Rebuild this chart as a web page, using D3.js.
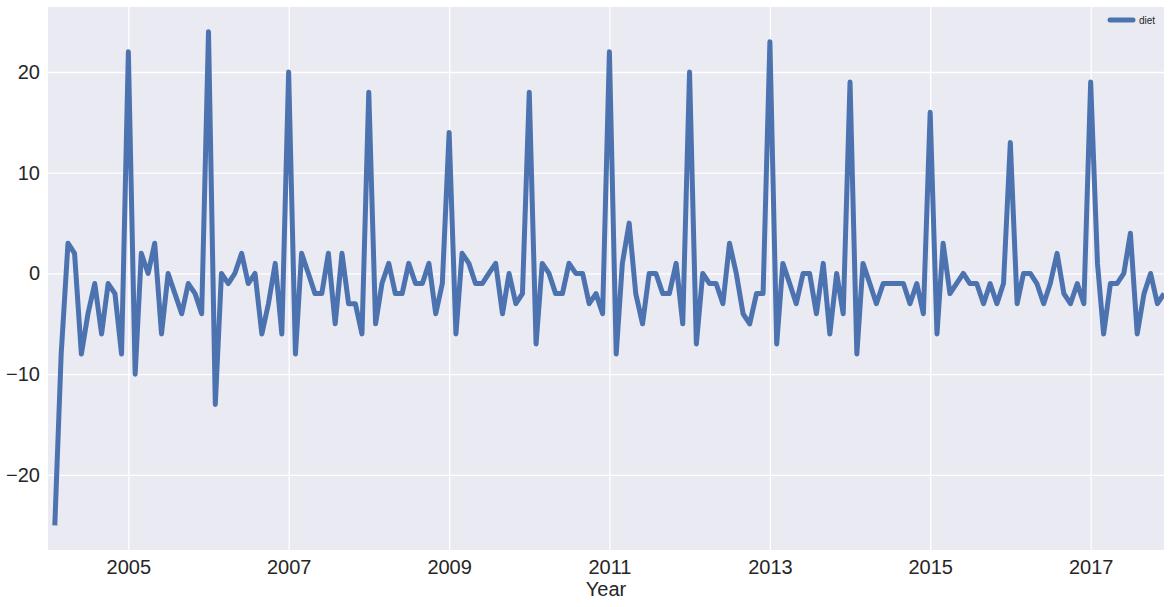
<!DOCTYPE html>
<html>
<head>
<meta charset="utf-8">
<script src="https://cdn.jsdelivr.net/npm/d3@7"></script>
<style>
  html, body { margin: 0; padding: 0; background: #ffffff; }
  svg { display: block; font-family: "Liberation Sans", Arial, sans-serif; }
</style>
</head>
<body>
<svg id="chart" width="1171" height="607"></svg>
<script>
// ---- data (monthly differences of "diet", first month 2004-01 is empty) ----
const startMonth = "2004-01";
const lastMonth = "2017-12";
const seriesName = "diet";
const dietDiff = [
  null,
  -25, -8, 3, 2, -8, -4, -1, -6, -1, -2, -8,          // 2004 Feb-Dec
  22, -10, 2, 0, 3, -6, 0, -2, -4, -1, -2, -4,         // 2005
  24, -13, 0, -1, 0, 2, -1, 0, -6, -3, 1, -6,          // 2006
  20, -8, 2, 0, -2, -2, 2, -5, 2, -3, -3, -6,          // 2007
  18, -5, -1, 1, -2, -2, 1, -1, -1, 1, -4, -1,         // 2008
  14, -6, 2, 1, -1, -1, 0, 1, -4, 0, -3, -2,           // 2009
  18, -7, 1, 0, -2, -2, 1, 0, 0, -3, -2, -4,           // 2010
  22, -8, 1, 5, -2, -5, 0, 0, -2, -2, 1, -5,           // 2011
  20, -7, 0, -1, -1, -3, 3, 0, -4, -5, -2, -2,         // 2012
  23, -7, 1, -1, -3, 0, 0, -4, 1, -6, 0, -4,           // 2013
  19, -8, 1, -1, -3, -1, -1, -1, -1, -3, -1, -4,       // 2014
  16, -6, 3, -2, -1, 0, -1, -1, -3, -1, -3, -1,        // 2015
  13, -3, 0, 0, -1, -3, -1, 2, -2, -3, -1, -3,         // 2016
  19, 1, -6, -1, -1, 0, 4, -6, -2, 0, -3, -2           // 2017
];
const xTickYears = [2005, 2007, 2009, 2011, 2013, 2015, 2017];
const yTicks = [-20, -10, 0, 10, 20];
const xLabel = "Year";

// ---- layout ----
const svg = d3.select("#chart");
const plot = { left: 48, right: 1164, top: 7, bottom: 550 };
const parseMonth = d3.timeParse("%Y-%m");
const t0 = parseMonth(startMonth);
const t1 = parseMonth(lastMonth);
const data = dietDiff.map((v, i) => ({ date: d3.timeMonth.offset(t0, i), value: v }));

const x = d3.scaleTime().domain([t0, t1]).range([plot.left, plot.right]);
const vals = dietDiff.filter(v => v !== null);
const vmin = d3.min(vals), vmax = d3.max(vals);
const pad = (vmax - vmin) * 0.05;
const y = d3.scaleLinear().domain([vmin - pad, vmax + pad]).range([plot.bottom, plot.top]);

// background
svg.append("rect")
  .attr("x", plot.left).attr("y", plot.top)
  .attr("width", plot.right - plot.left).attr("height", plot.bottom - plot.top)
  .attr("fill", "#EAEAF2");

// clip
svg.append("clipPath").attr("id", "clip").append("rect")
  .attr("x", plot.left).attr("y", plot.top)
  .attr("width", plot.right - plot.left).attr("height", plot.bottom - plot.top);

// axes (grid via tick lines)
const xTickDates = xTickYears.map(yr => new Date(yr, 0, 1));
const xAxis = d3.axisBottom(x).tickValues(xTickDates).tickFormat(d3.timeFormat("%Y"))
  .tickSize(-(plot.bottom - plot.top)).tickPadding(10);
const gx = svg.append("g").attr("transform", `translate(0,${plot.bottom})`).call(xAxis);
gx.select(".domain").remove();
gx.selectAll(".tick line").attr("stroke", "#ffffff").attr("stroke-width", 1.3);
gx.selectAll(".tick text").attr("fill", "#262626").attr("font-size", 20);

const yAxis = d3.axisLeft(y).tickValues(yTicks)
  .tickFormat(d => d < 0 ? "\u2212" + Math.abs(d) : String(d))
  .tickSize(-(plot.right - plot.left)).tickPadding(8);
const gy = svg.append("g").attr("transform", `translate(${plot.left},0)`).call(yAxis);
gy.select(".domain").remove();
gy.selectAll(".tick line").attr("stroke", "#ffffff").attr("stroke-width", 1.3);
gy.selectAll(".tick text").attr("fill", "#262626").attr("font-size", 20);

// line
const line = d3.line()
  .defined(d => d.value !== null)
  .x(d => x(d.date))
  .y(d => y(d.value));
svg.append("path")
  .datum(data)
  .attr("clip-path", "url(#clip)")
  .attr("fill", "none")
  .attr("stroke", "#4C72B0")
  .attr("stroke-width", 5)
  .attr("stroke-linejoin", "round")
  .attr("stroke-linecap", "butt")
  .attr("d", line);

// x label
svg.append("text")
  .attr("x", (plot.left + plot.right) / 2).attr("y", 596)
  .attr("text-anchor", "middle")
  .attr("font-size", 20).attr("fill", "#262626")
  .text(xLabel);

// legend
const lg = svg.append("g").attr("transform", "translate(1110,20)");
lg.append("line").attr("x1", 0).attr("x2", 23).attr("y1", 0).attr("y2", 0)
  .attr("stroke", "#4C72B0").attr("stroke-width", 5).attr("stroke-linecap", "round");
lg.append("text").attr("x", 29).attr("y", 3.5)
  .attr("font-size", 10).attr("fill", "#262626").text(seriesName);
</script>
</body>
</html>
